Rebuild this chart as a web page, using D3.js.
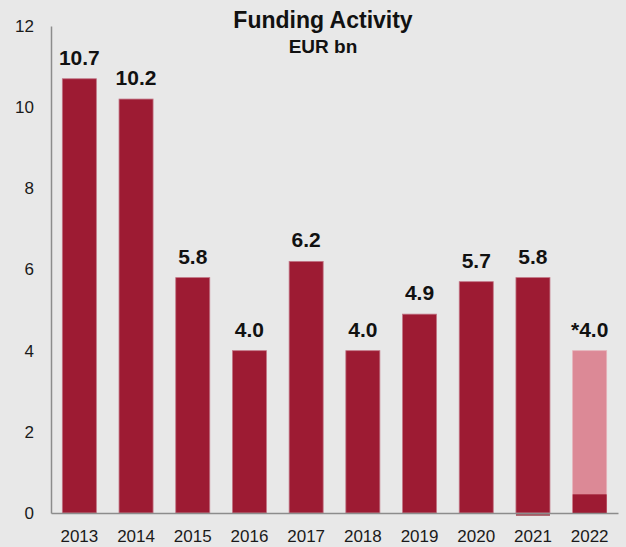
<!DOCTYPE html>
<html><head><meta charset="utf-8">
<script src="https://cdn.jsdelivr.net/npm/d3@7"></script>
<style>html,body{margin:0;padding:0;background:#e8e8e8;}svg{display:block;}</style>
</head><body>
<script>
const years = ["2013","2014","2015","2016","2017","2018","2019","2020","2021","2022"];
const values = [10.7,10.2,5.8,4.0,6.2,4.0,4.9,5.7,5.8,4.0];
const labels = ["10.7","10.2","5.8","4.0","6.2","4.0","4.9","5.7","5.8","*4.0"];
const achieved2022 = 0.46;
const negative2021 = -0.07;
const yTicks = [0,2,4,6,8,10,12];

const W = 626, H = 547;
const svg = d3.select("body").append("svg").attr("width", W).attr("height", H);
svg.append("rect").attr("width", W).attr("height", H).attr("fill", "#e8e8e8");

const x = d3.scaleBand().domain(years).range([51, 618]).paddingInner(0.4).paddingOuter(0.2);
const y = d3.scaleLinear().domain([0, 12]).range([513, 26]);

const dark = "#9d1b33", pink = "#dc8996";
const font = "Liberation Sans, Arial, sans-serif";

// bars
svg.selectAll("rect.bar").data(years).join("rect")
  .attr("class","bar")
  .attr("x", d => x(d)).attr("width", x.bandwidth())
  .attr("y", (d,i) => y(values[i]))
  .attr("height", (d,i) => y(0) - y(values[i]))
  .attr("fill", d => d === "2022" ? pink : dark)
  .attr("stroke", d => d === "2022" ? "#e6b3ba" : "#c27585").attr("stroke-width", 0.8);

// achieved part of 2022
svg.append("rect")
  .attr("x", x("2022")).attr("width", x.bandwidth())
  .attr("y", y(achieved2022)).attr("height", y(0) - y(achieved2022))
  .attr("fill", dark);

// small negative part of 2021
svg.append("rect")
  .attr("x", x("2021")).attr("width", x.bandwidth())
  .attr("y", y(0)).attr("height", y(negative2021) - y(0))
  .attr("fill", "#a5525d");

// axes
const yAxis = svg.append("g").attr("transform", "translate(51,0)")
  .call(d3.axisLeft(y).tickValues(yTicks).tickSize(0).tickPadding(17));
yAxis.select(".domain").attr("stroke", "#8c8c8c").attr("stroke-width", 1.5);
yAxis.selectAll("text").attr("font-family", font).attr("font-size", 17).attr("fill", "#1a1a1a");

const xAxis = svg.append("g").attr("transform", `translate(0,${y(0)})`)
  .call(d3.axisBottom(x).tickSize(0).tickPadding(17));
xAxis.select(".domain").attr("stroke", "#8c8c8c").attr("stroke-width", 1.5);
xAxis.selectAll("text").attr("font-family", font).attr("font-size", 17).attr("fill", "#1a1a1a");

// value labels
svg.selectAll("text.val").data(years).join("text")
  .attr("class","val")
  .attr("x", d => x(d) + x.bandwidth()/2)
  .attr("y", (d,i) => y(values[i]) - 14)
  .attr("text-anchor","middle")
  .attr("font-family", font).attr("font-weight","bold").attr("font-size", 21)
  .attr("fill", "#111")
  .text((d,i) => labels[i]);

// titles
svg.append("text").attr("x", 323).attr("y", 28).attr("text-anchor","middle")
  .attr("font-family", font).attr("font-weight","bold").attr("font-size", 23).attr("fill","#111")
  .text("Funding Activity");
svg.append("text").attr("x", 323).attr("y", 53).attr("text-anchor","middle")
  .attr("font-family", font).attr("font-weight","bold").attr("font-size", 19).attr("fill","#111")
  .text("EUR bn");
</script>
</body></html>
